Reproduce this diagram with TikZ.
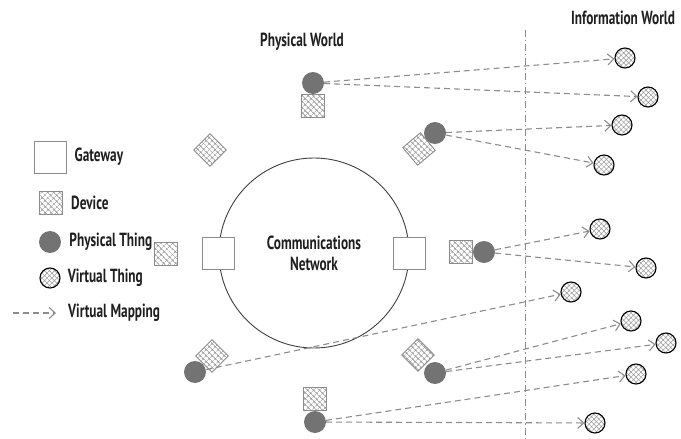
\documentclass[tikz,border=0pt]{standalone}
\usepackage{fontspec}
\newfontfamily\labelfont{PT Sans Bold}[FakeStretch=0.7]
\usetikzlibrary{positioning}
\usetikzlibrary{patterns.meta}
\usetikzlibrary{arrows.meta}
\definecolor{thinggray}{HTML}{737373}
\definecolor{edgegray}{HTML}{8C8C8C}
\tikzstyle{lbl} = [font=\labelfont\fontsize{19}{21}\selectfont, text=black!88, inner sep=2pt]
\tikzstyle{gatenode} = [draw=edgegray, fill=white, rectangle, minimum size=32pt, inner sep=0pt, line width=0.9pt]
\tikzstyle{devnode} = [draw=edgegray, rectangle, pattern={Hatch[angle=45, distance=4pt, line width=0.6pt]}, pattern color=gray!85, minimum size=23pt, inner sep=0pt, line width=0.9pt]
\tikzstyle{physnode} = [circle, fill=thinggray, minimum size=22pt, inner sep=0pt]
\tikzstyle{virtnode} = [circle, draw=black, pattern={Hatch[angle=45, distance=3.5pt, line width=0.5pt]}, pattern color=gray!80, minimum size=20pt, inner sep=0pt, line width=1.1pt]
\tikzstyle{mapline} = [-{Straight Barb[length=6pt, width=11pt]}, edgegray, line width=1.1pt, dash pattern=on 6pt off 4pt]

\begin{document}
\begin{tikzpicture}[x=1pt, y=-1pt]
  \useasboundingbox (0,0) rectangle (681,439);

  % headings and border between the two worlds
  \node[lbl] (pw) at (302,42) {Physical World};
  \node[lbl] (iw) at (623,18) {Information World};
  \coordinate (bordtop) at (525,30);
  \coordinate (bordbot) at (525,439);
  \draw[edgegray, line width=1pt, dash pattern=on 7pt off 3pt on 1.2pt off 3pt] (bordtop) -- (bordbot);

  % legend
  \node[gatenode] (lg) at (50,157) {};
  \node[lbl, right=6pt of lg] {Gateway};
  \node[devnode] (ld) at (51,203) {};
  \node[lbl, right=6pt of ld] {Device};
  \node[physnode] (lp) at (50,242) {};
  \node[lbl, right=6pt of lp] {Physical Thing};
  \node[virtnode] (lv) at (50,278) {};
  \node[lbl, right=5pt of lv] {Virtual Thing};
  \coordinate (lma) at (13,313);
  \coordinate (lmb) at (56,313);
  \node[lbl, anchor=west] (lm) at (66,313) {Virtual Mapping};
  \draw[mapline] (lma) -- (lmb);

  % network with its gateways
  \node[draw=black!75, circle, minimum size=190pt, line width=0.9pt, align=center, lbl] (net) at (314,253) {Communications\\Network};
  \node[gatenode] (gwl) at (net.west) {};
  \node[gatenode] (gwr) at (net.east) {};

  % devices and physical things
  \node[physnode] (p1) at (313,83) {};
  \node[devnode, below=0pt of p1] (d1) {};
  \node[physnode] (p2) at (435,133) {};
  \node[devnode, rotate=40] (d2) at (419,149) {};
  \node[devnode, rotate=45] (d3) at (210,150) {};
  \node[devnode] (d4) at (166,254) {};
  \node[physnode] (p5) at (484,252) {};
  \node[devnode, left=0pt of p5] (d5) {};
  \node[physnode] (p6) at (195,372) {};
  \node[devnode, rotate=45] (d6) at (212,356) {};
  \node[physnode] (p7) at (435,373) {};
  \node[devnode, rotate=45] (d7) at (418,355) {};
  \node[physnode] (p8) at (315,422) {};
  \node[devnode, above=0pt of p8] (d8) {};

  % virtual things
  \node[virtnode] (v1) at (625,58) {};
  \node[virtnode] (v2) at (648,97) {};
  \node[virtnode] (v3) at (622,125) {};
  \node[virtnode] (v4) at (604,165) {};
  \node[virtnode] (v5) at (600,229) {};
  \node[virtnode] (v6) at (646,268) {};
  \node[virtnode] (v7) at (571,292) {};
  \node[virtnode] (v8) at (631,321) {};
  \node[virtnode] (v9) at (666,343) {};
  \node[virtnode] (v10) at (636,374) {};
  \node[virtnode] (v11) at (595,423) {};

  % virtual mappings
  \draw[mapline] (p1) -- (v1);
  \draw[mapline] (p1) -- (v2);
  \draw[mapline] (p2) -- (v3);
  \draw[mapline] (p2) -- (v4);
  \draw[mapline] (p5) -- (v5);
  \draw[mapline] (p5) -- (v6);
  \draw[mapline] (p6) -- (v7);
  \draw[mapline] (p7) -- (v8);
  \draw[mapline] (p7) -- (v9);
  \draw[mapline] (p8) -- (v10);
  \draw[mapline] (p8) -- (v11);
\end{tikzpicture}
\end{document}
